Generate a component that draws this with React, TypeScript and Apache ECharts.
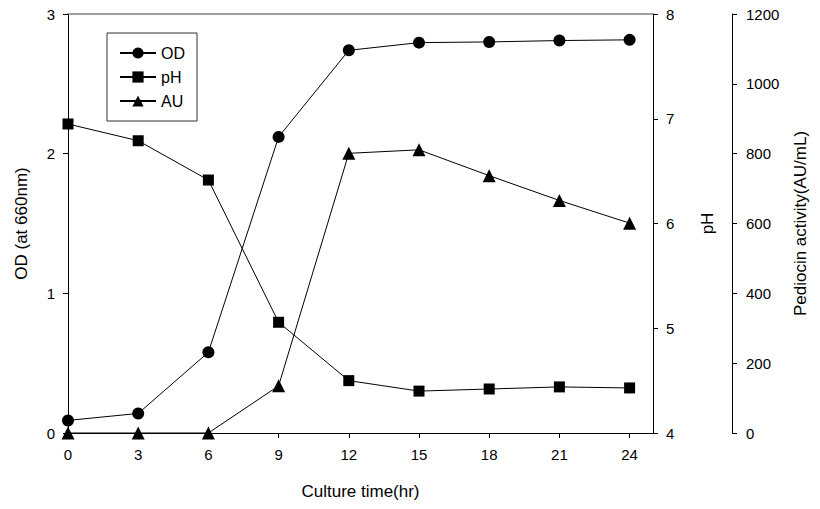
import React, { useEffect, useRef } from "react";
import * as echarts from "echarts";

const hours = [0, 3, 6, 9, 12, 15, 18, 21, 24];
const odValues = [0.09, 0.14, 0.578, 2.12, 2.74, 2.795, 2.80, 2.81, 2.815];
const phValues = [6.95, 6.79, 6.415, 5.057, 4.5, 4.4, 4.42, 4.44, 4.43];
const auValues = [0, 0, 0, 135, 801, 811, 737, 666, 601];
const xTicks = [0, 3, 6, 9, 12, 15, 18, 21, 24];

const FONT = "Liberation Sans, Arial, sans-serif";

export default function App() {
  const ref = useRef<HTMLDivElement>(null);
  useEffect(() => {
    if (!ref.current) return;
    const chart = echarts.init(ref.current, undefined, { renderer: "svg" });
    const pairs = (vals: number[]) => hours.map((h, i) => [h, vals[i]]);
    const lineStyle = { color: "#000", width: 1 };
    const itemStyle = { color: "#000" };
    const fmt = (v: number) => String(v);
    const axisLabel = { color: "#000", fontSize: 15, fontFamily: FONT, formatter: fmt };
    const nameTextStyle = { color: "#000", fontSize: 17, fontFamily: FONT };
    const tick = { show: true, inside: false, length: 5, lineStyle: { color: "#000", width: 1 } };
    const axisLine = { show: true, onZero: false, lineStyle: { color: "#000", width: 1 } };
    chart.setOption({
      animation: false,
      backgroundColor: "#fff",
      textStyle: { fontFamily: FONT },
      grid: { left: 68, right: 167, top: 14, bottom: 76, containLabel: false },
      legend: {
        left: 107,
        top: 33,
        orient: "vertical",
        itemWidth: 36,
        itemHeight: 14,
        itemGap: 8,
        padding: [12, 12, 12, 12],
        borderColor: "#333",
        borderWidth: 1,
        textStyle: { color: "#000", fontSize: 16, fontFamily: FONT },
        data: ["OD", "pH", "AU"],
      },
      xAxis: [
        {
          type: "value",
          min: 0,
          max: 25,
          position: "bottom",
          name: "Culture time(hr)",
          nameLocation: "middle",
          nameGap: 50,
          nameTextStyle,
          axisLine,
          axisTick: { ...tick, customValues: xTicks },
          axisLabel: { ...axisLabel, margin: 14, customValues: xTicks },
          splitLine: { show: false },
        },
        {
          type: "value",
          min: 0,
          max: 25,
          position: "top",
          axisLine: { show: true, onZero: false, lineStyle: { color: "#808080", width: 1.5 } },
          axisTick: { show: false },
          axisLabel: { show: false },
          splitLine: { show: false },
        },
      ],
      yAxis: [
        {
          type: "value",
          min: 0,
          max: 3,
          interval: 1,
          position: "left",
          name: "OD (at 660nm)",
          nameLocation: "middle",
          nameRotate: 90,
          nameGap: 38,
          nameTextStyle,
          axisLine,
          axisTick: tick,
          axisLabel: { ...axisLabel, margin: 13 },
          splitLine: { show: false },
        },
        {
          type: "value",
          min: 4,
          max: 8,
          interval: 1,
          position: "right",
          name: "pH",
          nameLocation: "middle",
          nameRotate: 90,
          nameGap: 46,
          nameTextStyle,
          axisLine,
          axisTick: tick,
          axisLabel: { ...axisLabel, margin: 13 },
          splitLine: { show: false },
        },
        {
          type: "value",
          min: 0,
          max: 1200,
          interval: 200,
          position: "right",
          offset: 79,
          name: "Pediocin activity(AU/mL)",
          nameLocation: "middle",
          nameRotate: 90,
          nameGap: 60,
          nameTextStyle,
          axisLine,
          axisTick: tick,
          axisLabel: { ...axisLabel, margin: 14 },
          splitLine: { show: false },
        },
      ],
      series: [
        {
          name: "OD",
          type: "line",
          yAxisIndex: 0,
          data: pairs(odValues),
          symbol: "circle",
          symbolSize: 12,
          lineStyle,
          itemStyle,
        },
        {
          name: "pH",
          type: "line",
          yAxisIndex: 1,
          data: pairs(phValues),
          symbol: "rect",
          symbolSize: 11,
          lineStyle,
          itemStyle,
        },
        {
          name: "AU",
          type: "line",
          yAxisIndex: 2,
          data: pairs(auValues),
          symbol: "triangle",
          symbolSize: 13,
          lineStyle,
          itemStyle,
        },
      ],
    });
    return () => chart.dispose();
  }, []);
  return <div ref={ref} style={{ width: 820, height: 509, position: "absolute", left: 0, top: 0 }} />;
}
